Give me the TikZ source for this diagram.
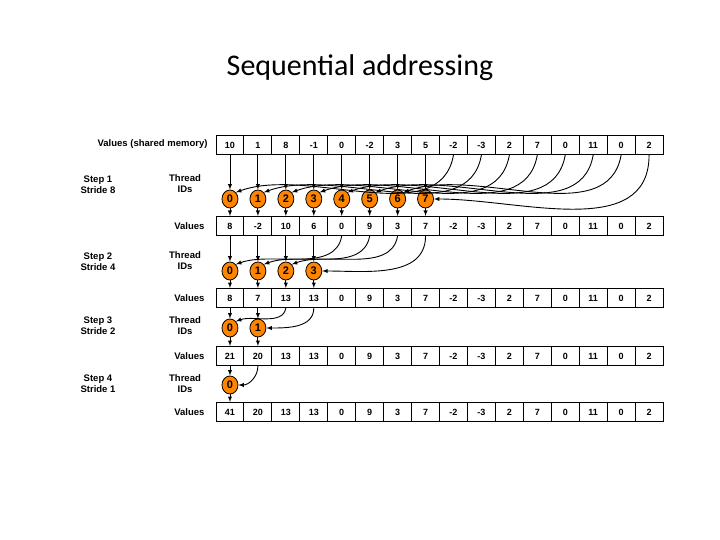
\documentclass[tikz,border=0pt]{standalone}
\usepackage{fontspec}
\usetikzlibrary{shapes.geometric}
\setmainfont{Liberation Sans}
\newfontfamily\titlefont{Carlito}
\begin{document}
\begin{tikzpicture}[x=1pt,y=-1pt,
  cell/.style={draw,line width=1pt,minimum width=27.94pt,minimum height=19pt,inner sep=0,font=\bfseries\fontsize{9}{10}\selectfont},
  tid/.style={ellipse,draw,line width=0.8pt,fill=orange!85!yellow!90!red,minimum width=16pt,minimum height=18pt,inner sep=0,font=\bfseries\fontsize{11}{12}\selectfont},
  lab/.style={font=\bfseries\fontsize{9.5}{11}\selectfont,align=center},
  arr/.style={-latex,line width=0.9pt}]
\useasboundingbox (0,0) rectangle (720,540);
\node[font=\titlefont\fontsize{30}{34}\selectfont] (title) at (360,68) {Sequential addressing};
\foreach \v [count=\i from 0] in {10,1,8,-1,0,-2,3,5,-2,-3,2,7,0,11,0,2}
  {\node[cell] (c0-\i) at ({216+27.94*(\i+0.5)},145) {\v};}
\foreach \v [count=\i from 0] in {8,-2,10,6,0,9,3,7,-2,-3,2,7,0,11,0,2}
  {\node[cell] (c1-\i) at ({216+27.94*(\i+0.5)},226) {\v};}
\foreach \v [count=\i from 0] in {8,7,13,13,0,9,3,7,-2,-3,2,7,0,11,0,2}
  {\node[cell] (c2-\i) at ({216+27.94*(\i+0.5)},298) {\v};}
\foreach \v [count=\i from 0] in {21,20,13,13,0,9,3,7,-2,-3,2,7,0,11,0,2}
  {\node[cell] (c3-\i) at ({216+27.94*(\i+0.5)},356) {\v};}
\foreach \v [count=\i from 0] in {41,20,13,13,0,9,3,7,-2,-3,2,7,0,11,0,2}
  {\node[cell] (c4-\i) at ({216+27.94*(\i+0.5)},412) {\v};}
\node[lab,anchor=east] (l0) at (211,144) {Values (shared memory)};
\foreach \r/\y in {1/226,2/298,3/356,4/412}{\node[lab,anchor=east] (l\r) at (208,\y) {Values};}
\foreach \s/\ty/\sy/\st in {1/184/185/8,2/261/262/4,3/326/326/2,4/384/384/1}{
  \node[lab] (th\s) at (185,\ty) {Thread\\IDs};
  \node[lab] (st\s) at (98,\sy) {Step \s\\Stride \st};
}
\foreach \s/\y/\n in {1/199/8,2/271/4,3/328/2,4/385/1}{
  \pgfmathtruncatemacro\last{\n-1}
  \foreach \i in {0,...,\last}{
    \node[tid] (t\s-\i) at ({216+27.94*(\i+0.5)},\y) {\i};
  }
}
\foreach \s/\n in {1/8,2/4,3/2,4/1}{
  \pgfmathtruncatemacro\last{\n-1}
  \pgfmathtruncatemacro\prev{\s-1}
  \foreach \i in {0,...,\last}{
    \pgfmathtruncatemacro\j{\i+\n}
    \draw[arr] (c\prev-\i.south) -- (t\s-\i.north);
    \draw[arr] (t\s-\i.south) -- (c\s-\i.north);
    \ifnum\i=\last
      \draw[arr] (c\prev-\j.south) to[out=-90,in=0] (t\s-\i.east);
    \else
      \draw[arr] (c\prev-\j.south) to[out=-100,in=20,looseness=0.9] (t\s-\i.north east);
    \fi
  }
}
\end{tikzpicture}
\end{document}
